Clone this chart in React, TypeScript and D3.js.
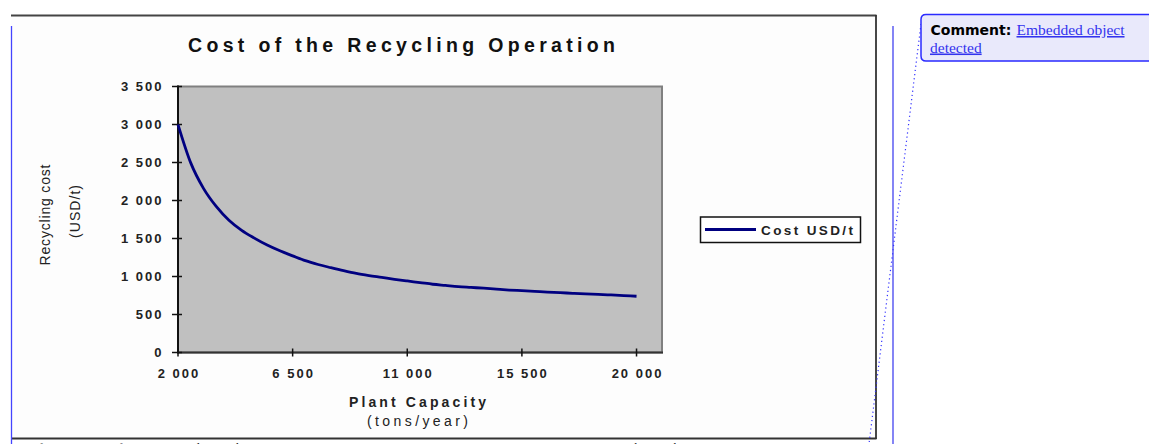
import React from "react";
import * as d3 from "d3";

const capacities = [
  2000, 2500, 3000, 3500, 4000, 4500, 5000, 5500, 6000, 6500, 7000, 7500, 8000,
  8500, 9000, 9500, 10000, 10500, 11000, 11500, 12000, 12500, 13000, 13500,
  14000, 14500, 15000, 15500, 16000, 16500, 17000, 17500, 18000, 18500, 19000,
  19500, 20000,
];
const costs = [
  3000, 2495, 2160, 1922, 1740, 1607, 1505, 1414, 1338, 1272, 1208, 1158, 1116,
  1076, 1040, 1012, 988, 963, 941, 920, 898, 882, 866, 856, 846, 834, 822, 813,
  804, 795, 787, 779, 771, 765, 757, 749, 740,
];
const yTicks = [0, 500, 1000, 1500, 2000, 2500, 3000, 3500];
const yTickLabels = ["0", "500", "1 000", "1 500", "2 000", "2 500", "3 000", "3 500"];
const xTicks = [2000, 6500, 11000, 15500, 20000];
const xTickLabels = ["2 000", "6 500", "11 000", "15 500", "20 000"];
const title = "Cost of the Recycling Operation";
const yTitle = ["Recycling cost", "(USD/t)"];
const xTitle = ["Plant Capacity", "(tons/year)"];
const seriesName = "Cost USD/t";

const W = 1149;
const H = 444;
const plot = { left: 178, right: 662, top: 86.5, bottom: 352.5 };
const SANS = "'Liberation Sans', Arial, sans-serif";

export default function App() {
  const x = d3.scaleLinear().domain([2000, 21000]).range([plot.left, plot.right]);
  const y = d3.scaleLinear().domain([0, 3500]).range([plot.bottom, plot.top]);
  const pts = capacities.map((c, i) => [c, costs[i]] as [number, number]);
  const line = d3
    .line<[number, number]>()
    .x((d) => x(d[0]))
    .y((d) => y(d[1]))
    .curve(d3.curveMonotoneX);

  return (
    <svg
      width={W}
      height={H}
      style={{ position: "absolute", left: 0, top: 0, background: "#fff" }}
    >
      <rect x={0} y={0} width={W} height={H} fill="#fff" />
      {/* clipped footer text */}
      <text x={12} y={452} fontFamily="'Liberation Serif', serif" fontSize={12.5} fill="#222">
        Significant Aspects of Battery Recycling – The Swiss Experience
      </text>
      <text x={605} y={452} fontFamily="'Liberation Serif', serif" fontSize={12.5} fill="#222">
        www.batrec.ch
      </text>
      <text x={828} y={452} fontFamily="'Liberation Serif', serif" fontSize={12.5} fill="#222">
        7
      </text>

      {/* chart frame */}
      <rect x={11} y={15.5} width={865} height={423} fill="#fdfdfd" stroke="none" />
      <line x1={11} x2={876.5} y1={15.5} y2={15.5} stroke="#444" strokeWidth={1.8} />
      <line x1={876} x2={876} y1={15} y2={439} stroke="#333" strokeWidth={1.8} />
      <line x1={11} x2={876.5} y1={438.5} y2={438.5} stroke="#333" strokeWidth={1.8} />
      <line x1={11.5} x2={11.5} y1={26} y2={444} stroke="#4444ff" strokeWidth={1.3} />
      <line x1={893} x2={893} y1={26} y2={444} stroke="#3333ee" strokeWidth={1.2} />

      {/* title */}
      <text
        x={401.5}
        y={52}
        textAnchor="middle"
        fontFamily={SANS}
        fontWeight="bold"
        fontSize={19.5}
        textLength={427}
        lengthAdjust="spacing"
        fill="#111"
      >
        {title}
      </text>

      {/* plot area */}
      <rect
        x={plot.left}
        y={plot.top}
        width={plot.right - plot.left}
        height={plot.bottom - plot.top}
        fill="#c0c0c0"
        stroke="#808080"
        strokeWidth={2}
      />
      <line x1={plot.left} x2={plot.left} y1={plot.top - 1} y2={plot.bottom + 1} stroke="#111" strokeWidth={2} />
      <line x1={plot.left} x2={plot.right + 1} y1={plot.bottom} y2={plot.bottom} stroke="#333" strokeWidth={2} />

      {yTicks.map((t, i) => (
        <g key={"y" + t}>
          <line x1={plot.left - 6} x2={plot.left + 4} y1={y(t)} y2={y(t)} stroke="#111" strokeWidth={1.5} />
          <text
            x={163.5}
            y={y(t) + 4.8}
            textAnchor="end"
            fontFamily={SANS}
            fontWeight="bold"
            fontSize={13}
            letterSpacing={2}
            fill="#222"
          >
            {yTickLabels[i]}
          </text>
        </g>
      ))}
      {xTicks.map((t, i) => (
        <g key={"x" + t}>
          <line x1={x(t)} x2={x(t)} y1={plot.bottom - 4} y2={plot.bottom + 4} stroke="#111" strokeWidth={1.5} />
          <text
            x={x(t) + 1}
            y={377.5}
            textAnchor="middle"
            fontFamily={SANS}
            fontWeight="bold"
            fontSize={13}
            letterSpacing={2}
            fill="#222"
          >
            {xTickLabels[i]}
          </text>
        </g>
      ))}

      {/* data line */}
      <path d={line(pts) || ""} fill="none" stroke="#000080" strokeWidth={2.8} strokeLinejoin="round" />

      {/* axis titles */}
      <text
        transform="translate(50,215) rotate(-90)"
        textAnchor="middle"
        fontFamily={SANS}
        fontSize={14}
        textLength={101}
        lengthAdjust="spacing"
        fill="#222"
      >
        {yTitle[0]}
      </text>
      <text
        transform="translate(80,211.5) rotate(-90)"
        textAnchor="middle"
        fontFamily={SANS}
        fontSize={14}
        textLength={53}
        lengthAdjust="spacing"
        fill="#222"
      >
        {yTitle[1]}
      </text>
      <text
        x={417.5}
        y={407}
        textAnchor="middle"
        fontFamily={SANS}
        fontWeight="bold"
        fontSize={14}
        textLength={137}
        lengthAdjust="spacing"
        fill="#222"
      >
        {xTitle[0]}
      </text>
      <text
        x={417.5}
        y={426}
        textAnchor="middle"
        fontFamily={SANS}
        fontSize={14}
        textLength={101}
        lengthAdjust="spacing"
        fill="#222"
      >
        {xTitle[1]}
      </text>

      {/* legend */}
      <rect x={700.5} y={217} width={160} height={25.5} fill="#fff" stroke="#111" strokeWidth={1.5} />
      <line x1={705} x2={756} y1={229.5} y2={229.5} stroke="#000080" strokeWidth={3} />
      <text
        x={761}
        y={234.5}
        fontFamily={SANS}
        fontWeight="bold"
        fontSize={13.5}
        textLength={92}
        lengthAdjust="spacing"
        fill="#222"
      >
        {seriesName}
      </text>

      {/* comment connector */}
      <line x1={921} y1={24} x2={869} y2={444} stroke="#3333ff" strokeWidth={1.2} strokeDasharray="1.2 3" />
      {/* comment box */}
      <path
        d={`M ${W + 5} 14.5 L 926 14.5 Q 921 14.5 921 19.5 L 921 56 Q 921 61 926 61 L ${W + 5} 61`}
        fill="#e9e9fb"
        stroke="#2a2aff"
        strokeWidth={1.5}
      />
      <text x={930.5} y={35} fontFamily="'DejaVu Sans', Verdana, sans-serif" fontWeight="bold" fontSize={14} fill="#000">
        Comment:
      </text>
      <text
        x={1016.5}
        y={35}
        fontFamily="'Liberation Serif', 'Times New Roman', serif"
        fontSize={15.5}
        fill="#3333ee"
        textDecoration="underline"
      >
        Embedded object
      </text>
      <text
        x={930}
        y={52.5}
        fontFamily="'Liberation Serif', 'Times New Roman', serif"
        fontSize={15.5}
        fill="#3333ee"
        textDecoration="underline"
      >
        detected
      </text>
    </svg>
  );
}
